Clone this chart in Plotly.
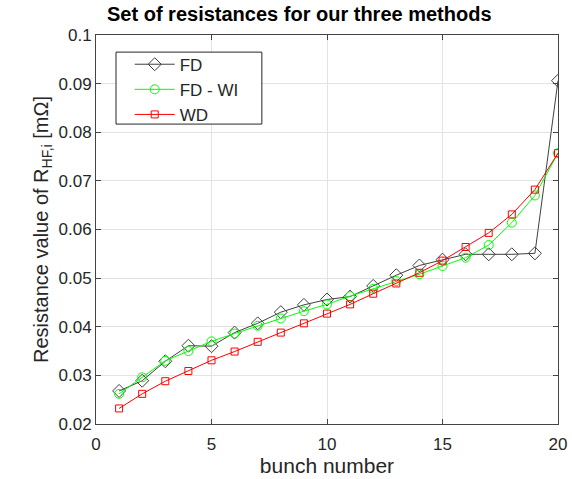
import plotly.graph_objects as go

bunch = list(range(1, 21))
fd = [0.0268, 0.0289, 0.0329, 0.0361, 0.0360, 0.0388, 0.0407, 0.0430, 0.0445, 0.0456,
      0.0462, 0.0484, 0.0506, 0.0526, 0.0538, 0.0549, 0.0549, 0.0549, 0.0551, 0.0906]
fd_wi = [0.0262, 0.0296, 0.0330, 0.0350, 0.0370, 0.0386, 0.0402, 0.0417, 0.0432, 0.0446,
         0.0463, 0.0478, 0.0494, 0.0508, 0.0525, 0.0542, 0.0568, 0.0614, 0.0670, 0.0757]
wd = [0.0232, 0.0262, 0.0288, 0.0309, 0.0331, 0.0349, 0.0369, 0.0388, 0.0407, 0.0427,
      0.0446, 0.0468, 0.0489, 0.0511, 0.0536, 0.0564, 0.0593, 0.0631, 0.0682, 0.0757]

x_ticks = [0, 5, 10, 15, 20]
y_ticks = [0.02, 0.03, 0.04, 0.05, 0.06, 0.07, 0.08, 0.09, 0.1]
y_tick_text = ["0.02", "0.03", "0.04", "0.05", "0.06", "0.07", "0.08", "0.09", "0.1"]

font = "Liberation Sans, Arial, sans-serif"

fig = go.Figure()
fig.add_trace(go.Scatter(x=bunch, y=fd, name="FD", mode="lines+markers",
                         line=dict(color="#404040", width=1),
                         marker=dict(symbol="diamond-open", size=10, color="#404040", line=dict(width=1))))
fig.add_trace(go.Scatter(x=bunch, y=fd_wi, name="FD - WI", mode="lines+markers",
                         line=dict(color="#00ff00", width=1),
                         marker=dict(symbol="circle-open", size=9, color="#00ff00", line=dict(width=1))))
fig.add_trace(go.Scatter(x=bunch, y=wd, name="WD", mode="lines+markers",
                         line=dict(color="#ff0000", width=1),
                         marker=dict(symbol="square-open", size=7, color="#ff0000", line=dict(width=1))))

axis_common = dict(showline=True, linecolor="#444444", linewidth=1, mirror="ticks",
                   ticks="inside", ticklen=5, tickcolor="#444444", automargin=False,
                   showgrid=True, gridcolor="#e3e3e3", gridwidth=1, zeroline=False,
                   tickfont=dict(family=font, size=17, color="#262626"))

fig.update_layout(
    width=572, height=479,
    margin=dict(l=96, r=14, t=35, b=55),
    paper_bgcolor="white", plot_bgcolor="white",
    title=dict(text="<b>Set of resistances for our three methods</b>", x=0.44, xref="paper",
               xanchor="center", y=0.986, yref="container", yanchor="top",
               font=dict(family=font, size=20, color="black")),
    xaxis=dict(range=[0, 20], tickvals=x_ticks, ticklabelstandoff=5,
               title=dict(text="bunch number", font=dict(family=font, size=21, color="#262626"), standoff=1),
               **axis_common),
    yaxis=dict(range=[0.02, 0.1], tickvals=y_ticks, ticktext=y_tick_text,
               title=dict(text="Resistance value of R<sub>HF,i</sub> [mΩ]",
                          font=dict(family=font, size=20, color="#262626"), standoff=4),
               **axis_common),
    legend=dict(x=0.073, y=0.97, xanchor="left", yanchor="top",
                bgcolor="rgba(0,0,0,0)", borderwidth=0,
                font=dict(family=font, size=17, color="#262626"),
                itemwidth=40, tracegroupgap=0),
    shapes=[dict(type="rect", xref="paper", yref="paper", x0=0.0433, x1=0.359, y0=0.771, y1=0.956,
                 line=dict(color="#262626", width=1), fillcolor="white", layer="above")],
    showlegend=True,
)

fig.write_html("out.html", config={"displayModeBar": False},
               post_script="document.body.style.margin='0';document.body.style.overflow='hidden';")
